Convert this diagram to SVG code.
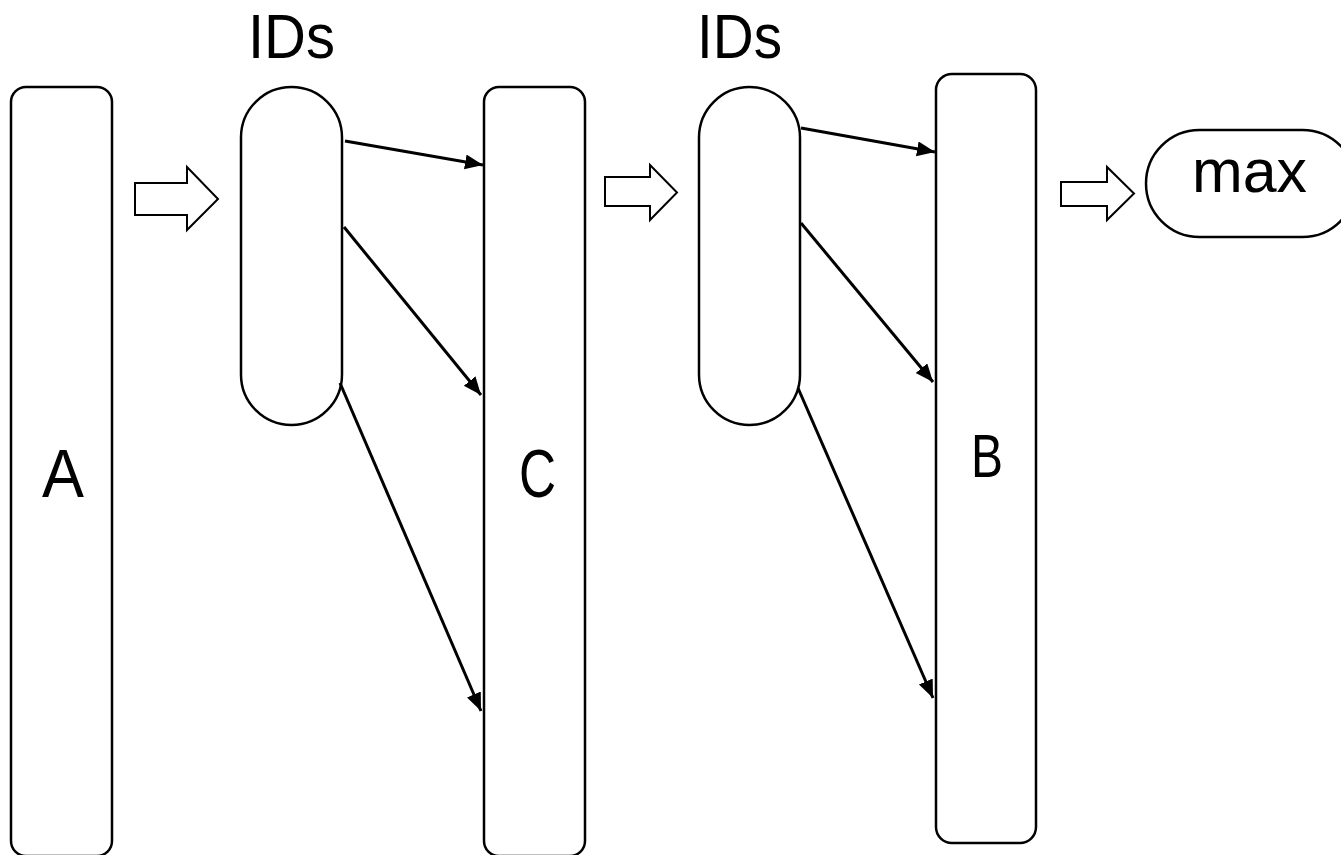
<svg xmlns="http://www.w3.org/2000/svg" width="1341" height="855" viewBox="0 0 1341 855">
<style>
.box{fill:#fff;stroke:#000;stroke-width:2.5}
.blk{fill:#fff;stroke:#000;stroke-width:2;stroke-linejoin:miter}
.lbl{font-family:"Liberation Sans",Arial,sans-serif;fill:#000}
.con{stroke:#000;stroke-width:3;fill:none}
</style>
<defs>
<marker id="ah" markerUnits="userSpaceOnUse" markerWidth="20" markerHeight="16" refX="18" refY="7.5" orient="auto">
<path d="M0,0 L18,7.5 L0,15 Z" fill="#000"/>
</marker>
</defs>
<rect width="1341" height="855" fill="#fff"/>
<g id="nodeA"><rect class="box" x="11" y="87" width="101" height="769" rx="15"/><text class="lbl" x="42" y="497" font-size="68" textLength="42" lengthAdjust="spacingAndGlyphs">A</text></g>
<g id="ids1"><rect class="box" x="241" y="87" width="101" height="338" rx="50.5"/><text class="lbl" x="248" y="58" font-size="63" textLength="87" lengthAdjust="spacingAndGlyphs">IDs</text></g>
<g id="nodeC"><rect class="box" x="484" y="87" width="101" height="769" rx="15"/><text class="lbl" x="519" y="497" font-size="68" textLength="37" lengthAdjust="spacingAndGlyphs">C</text></g>
<g id="ids2"><rect class="box" x="699" y="87" width="101" height="338" rx="50.5"/><text class="lbl" x="697" y="58" font-size="63" textLength="85" lengthAdjust="spacingAndGlyphs">IDs</text></g>
<g id="nodeB"><rect class="box" x="936" y="74" width="100" height="769" rx="16"/><text class="lbl" x="971" y="477" font-size="61" textLength="32" lengthAdjust="spacingAndGlyphs">B</text></g>
<g id="max"><rect class="box" x="1146" y="130" width="210" height="107" rx="53.5"/><text class="lbl" x="1192" y="192" font-size="61" textLength="115" lengthAdjust="spacingAndGlyphs">max</text></g>
<g id="connectors">
<polygon class="blk" points="135,183 187,183 187,167 218,199 187,230 187,215 135,215"/>
<polygon class="blk" points="605,177 650,177 650,165 677,192.5 650,220 650,206 605,206"/>
<polygon class="blk" points="1061,182 1107,182 1107,167 1134,193.5 1107,220 1107,206 1061,206"/>
<line class="con" x1="345" y1="141" x2="483" y2="165" marker-end="url(#ah)"/>
<line class="con" x1="344" y1="227" x2="481" y2="395" marker-end="url(#ah)"/>
<line class="con" x1="340" y1="383" x2="481" y2="711" marker-end="url(#ah)"/>
<line class="con" x1="801" y1="128" x2="935" y2="152" marker-end="url(#ah)"/>
<line class="con" x1="801" y1="223" x2="933" y2="382" marker-end="url(#ah)"/>
<line class="con" x1="798" y1="388" x2="933" y2="698" marker-end="url(#ah)"/>
</g>
</svg>
